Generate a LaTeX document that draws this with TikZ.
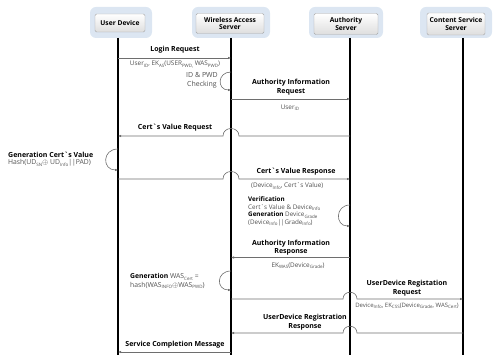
\documentclass[tikz,border=0pt]{standalone}
\usepackage{fontspec}
\setmainfont{Open Sans}
\usetikzlibrary{arrows.meta,calc}
\definecolor{hdrblue}{HTML}{DCE6F2}
\definecolor{txtgray}{HTML}{505050}
\definecolor{linegray}{HTML}{6E6E6E}
\newcommand{\subx}[1]{\raisebox{-0.45ex}{\fontsize{4.5}{4.5}\selectfont #1}}
\newcommand{\bq}{\textasciigrave}
\begin{document}
\begin{tikzpicture}[x=1pt,y=-1pt,
  outerbox/.style={draw=none,fill=hdrblue,rounded corners=6pt,inner sep=0pt},
  innerbox/.style={draw=black!35,top color=white,bottom color=black!13,rounded corners=1.5pt,
    inner sep=0pt,align=center,font=\fontsize{6.7}{7.5}\selectfont\bfseries},
  lifeline/.style={draw=black,line width=1.2pt},
  msg/.style={draw=linegray,line width=0.6pt},
  tip/.style={-{Latex[length=3pt,width=2.6pt]}},
  blab/.style={inner sep=0pt,align=center,font=\fontsize{7}{8.6}\selectfont\bfseries},
  glab/.style={inner sep=0pt,align=center,text=txtgray,font=\fontsize{6.4}{7.5}\selectfont},
  clab/.style={inner sep=0pt,align=center,text=txtgray,font=\fontsize{7}{9}\selectfont}
]
\useasboundingbox (0,0) rectangle (496,355);

% headers
\node[outerbox,minimum width=62,minimum height=31] (udo) at (121,22.5) {};
\node[innerbox,minimum width=50,minimum height=18] (ud) at (120,23) {User Device};
\node[outerbox,minimum width=78,minimum height=31] (waso) at (231,22.5) {};
\node[innerbox,minimum width=68,minimum height=20] (was) at (230,23.5) {Wireless Access\\Server};
\node[outerbox,minimum width=74,minimum height=31] (aso) at (346,22.5) {};
\node[innerbox,minimum width=64,minimum height=21] (as) at (346,24) {Authority\\Server};
\node[outerbox,minimum width=72,minimum height=31] (csso) at (456,22.5) {};
\node[innerbox,minimum width=58,minimum height=22] (css) at (456,24) {Content Service\\Server};

% lifelines
\coordinate (udT) at (118,38);  \coordinate (udB) at (118,355);
\coordinate (wasT) at (231,38); \coordinate (wasB) at (231,355);
\coordinate (asT) at (350,38);  \coordinate (asB) at (350,355);
\coordinate (cssT) at (463,38); \coordinate (cssB) at (463,355);
\draw[lifeline] (udT) -- (udB);
\draw[lifeline] (wasT) -- (wasB);
\draw[lifeline] (asT) -- (asB);
\draw[lifeline] (cssT) -- (cssB);

% 1 Login Request
\node[blab] (l1) at (175,50) {Login Request};
\coordinate (m1a) at (118,58); \coordinate (m1b) at (231,58);
\draw[msg,tip] (m1a) -- (m1b);
\node[glab] (l1b) at (175,64.5) {User\subx{ID}, EK\subx{AS}(USER\subx{PWD,} WAS\subx{PWD})};
\node[clab] (l1c) at (202,80) {ID \& PWD\\Checking};
\coordinate (s1a) at (231,72); \coordinate (s1b) at (231,90);
\draw[msg,tip] (s1a) .. controls ([xshift=-14pt]s1a) and ([xshift=-14pt]s1b) .. (s1b);

% 2 Authority Information Request
\node[blab] (l2) at (291,87) {Authority Information\\Request};
\coordinate (m2a) at (231,99); \coordinate (m2b) at (350,99);
\draw[msg,tip] (m2a) -- (m2b);
\node[glab] (l2b) at (290,107.5) {User\subx{ID}};

% 3 Cert's Value Request
\node[blab] (l3) at (175,128) {Cert\bq s Value Request};
\coordinate (m3a) at (350,136); \coordinate (m3b) at (118,136); \coordinate (h3) at (231,136);
\draw[msg,tip] (m3a) -- ([xshift=8pt]h3) .. controls ([xshift=8pt,yshift=10pt]h3) and ([xshift=-8pt,yshift=10pt]h3) .. ([xshift=-8pt]h3) -- (m3b);

% 4 Generation Cert's Value
\node[blab,anchor=west] (l4) at (8,154.5) {Generation Cert\bq s Value};
\node[glab,anchor=west,font=\fontsize{6.8}{7.5}\selectfont] (l4b) at (8,163) {Hash(UD\subx{SN}$\oplus$ UD\subx{Info}||PAD)};
\coordinate (s4a) at (118,149); \coordinate (s4b) at (118,170);
\draw[msg,tip] (s4a) .. controls ([xshift=-16pt]s4a) and ([xshift=-16pt]s4b) .. (s4b);

% 5 Cert's Value Response
\node[blab] (l5) at (296,172) {Cert\bq s Value Response};
\coordinate (m5a) at (118,179); \coordinate (m5b) at (350,179); \coordinate (h5) at (231,179);
\draw[msg,tip] (m5a) -- ([xshift=-8pt]h5) .. controls ([xshift=-8pt,yshift=10pt]h5) and ([xshift=8pt,yshift=10pt]h5) .. ([xshift=8pt]h5) -- (m5b);
\node[glab,anchor=west] (l5b) at (251,186) {(Device\subx{Info}, Cert\bq s Value)};

% 6 Verification
\node[glab,anchor=north west,align=left,font=\fontsize{6.3}{7.5}\selectfont] (l6) at (248,196.5)
  {\textcolor{black}{\bfseries Verification}\\Cert\bq s Value \& Device\subx{Info}\\\textcolor{black}{\bfseries Generation} Device\subx{Grade}\\(Device\subx{Info}||Grade\subx{Info})};
\coordinate (s6a) at (350,205); \coordinate (s6b) at (350,226);
\draw[msg,tip] (s6a) .. controls ([xshift=-15pt]s6a) and ([xshift=-15pt]s6b) .. (s6b);

% 7 Authority Information Response
\node[blab] (l7) at (291,247.5) {Authority Information\\Response};
\coordinate (m7a) at (350,257.5); \coordinate (m7b) at (231,257.5);
\draw[msg,tip] (m7a) -- (m7b);
\node[glab] (l7b) at (298,265.5) {EK\subx{WAS}(Device\subx{Grade})};

% 8 Generation WAS_Cert
\node[glab,anchor=west,align=left,font=\fontsize{6.8}{8.6}\selectfont] (l8) at (130,281)
  {\textcolor{black}{\bfseries Generation} WAS\subx{Cert} =\\hash(WAS\subx{INFO}$\oplus$WAS\subx{PWD})};
\coordinate (s8a) at (231,271); \coordinate (s8b) at (231,290);
\draw[msg,tip] (s8a) .. controls ([xshift=-15pt]s8a) and ([xshift=-15pt]s8b) .. (s8b);

% 9 UserDevice Registation Request
\node[blab] (l9) at (407,288) {UserDevice Registation\\Request};
\coordinate (m9a) at (231,299); \coordinate (m9b) at (463,299); \coordinate (h9) at (350,299);
\draw[msg,tip] (m9a) -- ([xshift=-7pt]h9) .. controls ([xshift=-7pt,yshift=9pt]h9) and ([xshift=7pt,yshift=9pt]h9) .. ([xshift=7pt]h9) -- (m9b);
\node[glab,font=\fontsize{6}{7}\selectfont] (l9b) at (407,306) {Device\subx{Info}, EK\subx{CSS}(Device\subx{Grade}, WAS\subx{Cert})};

% 10 UserDevice Registration Response
\node[blab] (l10) at (305,322) {UserDevice Registration\\Response};
\coordinate (m10a) at (463,333); \coordinate (m10b) at (231,333); \coordinate (h10) at (350,333);
\draw[msg,tip] (m10a) -- ([xshift=7pt]h10) .. controls ([xshift=7pt,yshift=9pt]h10) and ([xshift=-7pt,yshift=9pt]h10) .. ([xshift=-7pt]h10) -- (m10b);

% 11 Service Completion Message
\node[blab] (l11) at (175,345) {Service Completion Message};
\coordinate (m11a) at (231,352); \coordinate (m11b) at (118,352);
\draw[msg,tip] (m11a) -- (m11b);
\end{tikzpicture}
\end{document}
